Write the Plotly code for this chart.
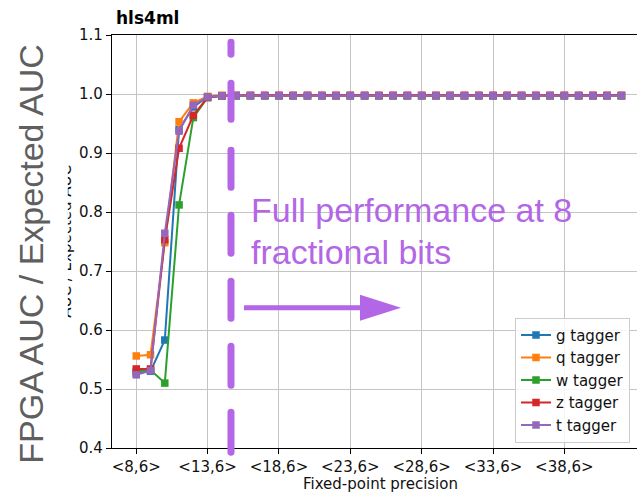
import plotly.graph_objects as go

# Fixed-point widths <W,6> scanned (total bits W, 6 integer bits)
widths = list(range(8, 43))
tick_widths = [8, 13, 18, 23, 28, 33, 38]
tick_labels = ["<8,6>", "<13,6>", "<18,6>", "<23,6>", "<28,6>", "<33,6>", "<38,6>"]

# FPGA AUC divided by expected (floating point) AUC, one list per tagger
g_tagger = [0.527, 0.530, 0.583, 0.940, 0.978, 0.995, 0.997,
            0.997, 0.997, 0.997, 0.997, 0.997, 0.997, 0.997, 0.997, 0.997,
            0.997, 0.997, 0.997, 0.997, 0.997, 0.997, 0.997, 0.997, 0.997,
            0.997, 0.997, 0.997, 0.997, 0.997, 0.997, 0.997, 0.997, 0.997, 0.997]
q_tagger = [0.556, 0.558, 0.748, 0.953, 0.985, 0.996, 0.998,
            0.997, 0.997, 0.997, 0.997, 0.997, 0.997, 0.997, 0.997, 0.997,
            0.997, 0.997, 0.997, 0.997, 0.997, 0.997, 0.997, 0.997, 0.997,
            0.997, 0.997, 0.997, 0.997, 0.997, 0.997, 0.997, 0.997, 0.997, 0.997]
w_tagger = [0.530, 0.532, 0.510, 0.812, 0.960, 0.994, 0.997,
            0.997, 0.997, 0.997, 0.997, 0.997, 0.997, 0.997, 0.997, 0.997,
            0.997, 0.997, 0.997, 0.997, 0.997, 0.997, 0.997, 0.997, 0.997,
            0.997, 0.997, 0.997, 0.997, 0.997, 0.997, 0.997, 0.997, 0.997, 0.997]
z_tagger = [0.534, 0.534, 0.753, 0.908, 0.964, 0.994, 0.997,
            0.998, 0.998, 0.998, 0.998, 0.998, 0.998, 0.998, 0.998, 0.998,
            0.998, 0.998, 0.998, 0.998, 0.998, 0.998, 0.998, 0.998, 0.998,
            0.998, 0.998, 0.998, 0.998, 0.998, 0.998, 0.998, 0.998, 0.998, 0.998]
t_tagger = [0.524, 0.531, 0.764, 0.937, 0.981, 0.995, 0.997,
            0.997, 0.997, 0.997, 0.997, 0.997, 0.997, 0.997, 0.997, 0.997,
            0.997, 0.997, 0.997, 0.997, 0.997, 0.997, 0.997, 0.997, 0.997,
            0.997, 0.997, 0.997, 0.997, 0.997, 0.997, 0.997, 0.997, 0.997, 0.997]

series = [
    ("g tagger", g_tagger, "#1f77b4"),
    ("q tagger", q_tagger, "#ff7f0e"),
    ("w tagger", w_tagger, "#2ca02c"),
    ("z tagger", z_tagger, "#d62728"),
    ("t tagger", t_tagger, "#9467bd"),
]

FIG_W, FIG_H = 637, 494
PL, PR, PT, PB = 112, 637, 35.3, 448.3   # plot area edges in pixels
PURPLE = "#b366e6"


def px(x):
    return (x - PL) / (PR - PL)


def py(y):
    return (PB - y) / (PB - PT)


fig = go.Figure()
for i, (name, vals, color) in enumerate(series):
    fig.add_trace(go.Scatter(
        x=widths, y=vals, name=name, mode="lines+markers",
        legendgroup=f"g{i}",
        line=dict(color=color, width=2),
        marker=dict(symbol="square", size=7.5, color=color),
    ))

shapes = []

# slide overlay: thick dashed marker line with rounded dash ends
dash_spans = [(39, 58), (80, 123), (147, 191), (212, 257), (278, 322), (343, 389), (409, 456)]
cx, r = 231, 3.5
for y1, y2 in dash_spans:
    pts = [
        ("M", cx - r, y1 + r),
        ("Q", cx - r, y1, cx, y1),
        ("Q", cx + r, y1, cx + r, y1 + r),
        ("L", cx + r, y2 - r),
        ("Q", cx + r, y2, cx, y2),
        ("Q", cx - r, y2, cx - r, y2 - r),
    ]
    path = ""
    for p in pts:
        cmd, coords = p[0], p[1:]
        xy = [f"{px(coords[k]):.5f},{py(coords[k + 1]):.5f}" for k in range(0, len(coords), 2)]
        path += cmd + " ".join(xy) + " "
    shapes.append(dict(type="path", path=path + "Z", xref="paper", yref="paper",
                       fillcolor=PURPLE, line=dict(width=0), layer="above"))

# arrow shaft and head
shapes.append(dict(type="line", xref="paper", yref="paper",
                   x0=px(244), x1=px(364), y0=py(308), y1=py(308),
                   line=dict(color=PURPLE, width=5), layer="above"))
shapes.append(dict(type="path", xref="paper", yref="paper",
                   path=f"M{px(360)},{py(295)} L{px(401)},{py(308)} L{px(360)},{py(321)} Z",
                   fillcolor=PURPLE, line=dict(width=0), layer="above"))

annotations = [
    # small matplotlib-style axis label, partly hidden behind the slide label box
    dict(text="AUC / Expected AUC", x=px(66), y=py(242), xref="paper", yref="paper",
         textangle=-90, showarrow=False, xanchor="center", yanchor="middle",
         font=dict(family="DejaVu Sans", size=15, color="#111")),
    # large slide label with a white box
    dict(text="FPGA AUC / Expected AUC", x=px(31), y=py(254), xref="paper", yref="paper",
         textangle=-90, showarrow=False, xanchor="center", yanchor="middle",
         bgcolor="white", borderpad=17,
         font=dict(family="Liberation Sans", size=34, color="#5f5f5f")),
    dict(text="<b>hls4ml</b>", x=px(114), y=py(18), xref="paper", yref="paper",
         showarrow=False, xanchor="left", yanchor="middle",
         font=dict(family="DejaVu Sans", size=17, color="black")),
    dict(text="Fixed-point precision", x=px(380), y=py(484.5), xref="paper", yref="paper",
         showarrow=False, xanchor="center", yanchor="middle",
         font=dict(family="DejaVu Sans", size=15, color="#111")),
    dict(text="Full performance at 8", x=px(249), y=py(210), xref="paper", yref="paper",
         showarrow=False, xanchor="left", yanchor="middle",
         font=dict(family="Liberation Sans", size=34, color=PURPLE)),
    dict(text="fractional bits", x=px(249), y=py(252), xref="paper", yref="paper",
         showarrow=False, xanchor="left", yanchor="middle",
         font=dict(family="Liberation Sans", size=34, color=PURPLE)),
]

axis_common = dict(
    showgrid=True, gridcolor="#c4c4c4", gridwidth=1.2, zeroline=False,
    showline=True, linecolor="black", linewidth=1.3,
    ticks="outside", ticklen=5, tickwidth=1.2, tickcolor="black",
    tickfont=dict(family="DejaVu Sans", size=15, color="#111"),
)

fig.update_layout(
    width=FIG_W, height=FIG_H,
    margin=dict(l=PL, r=FIG_W - PR, t=PT, b=FIG_H - PB),
    paper_bgcolor="white", plot_bgcolor="white",
    xaxis=dict(range=[6.3, 6.3 + (PR - PL) / 14.27], tickvals=tick_widths, ticktext=tick_labels,
               mirror=True, **axis_common),
    yaxis=dict(range=[0.4, 1.1], dtick=0.1, tickformat=".1f", **axis_common),
    showlegend=True,
    legend=dict(x=px(515), y=py(318), xanchor="left", yanchor="top",
                bgcolor="rgba(255,255,255,0.85)", bordercolor="#cccccc", borderwidth=1,
                font=dict(family="DejaVu Sans", size=15, color="#111"),
                tracegroupgap=0),
    shapes=shapes,
    annotations=annotations,
)

fig.write_html("out.html")
